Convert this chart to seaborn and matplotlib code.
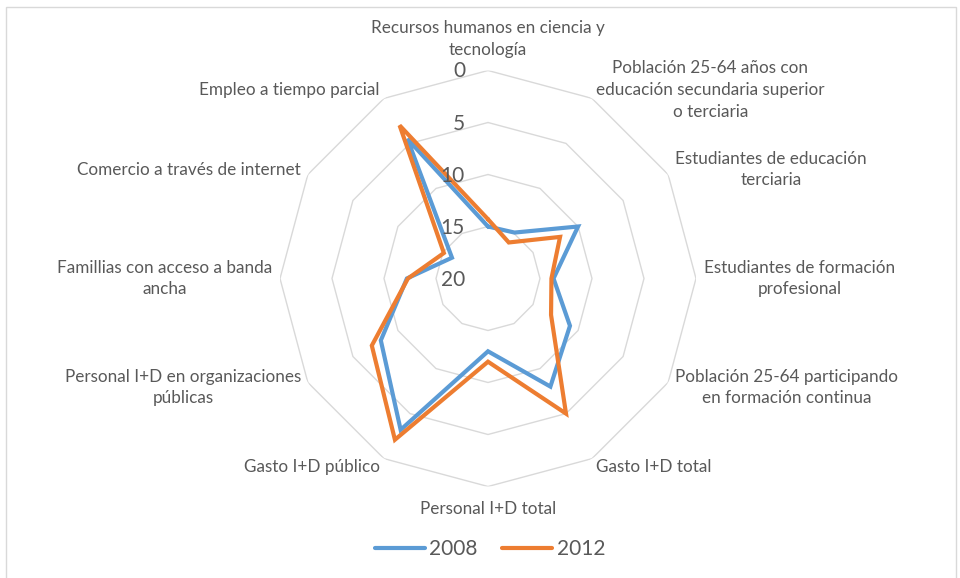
import numpy as np
import pandas as pd
import matplotlib
matplotlib.use("Agg")
import matplotlib.pyplot as plt
from matplotlib.lines import Line2D
from matplotlib.patches import Rectangle
import seaborn as sns

# categorias en sentido horario, empezando arriba
categorias = [
    "Recursos humanos en ciencia y\ntecnología",
    "Población 25-64 años con\neducación secundaria superior\no terciaria",
    "Estudiantes de educación\nterciaria",
    "Estudiantes de formación\nprofesional",
    "Población 25-64 participando\nen formación continua",
    "Gasto I+D total",
    "Personal I+D total",
    "Gasto I+D público",
    "Personal I+D en organizaciones\npúblicas",
    "Famillias con acceso a banda\nancha",
    "Comercio a través de internet",
    "Empleo a tiempo parcial",
]
valores_2008 = [15.0, 14.9, 10.0, 13.7, 10.9, 8.0, 13.0, 3.2, 8.1, 12.2, 16.0, 4.5]
valores_2012 = [14.3, 16.0, 12.0, 13.9, 13.0, 5.0, 12.0, 2.1, 7.1, 12.3, 15.1, 3.0]
anios = ["2008", "2012"]
colores = ["#5B9BD5", "#ED7D31"]
ticks = [0, 5, 10, 15, 20]

sns.set_style("white")
plt.rcParams['font.family'] = ['Lato', 'DejaVu Sans']
gris = "#595959"

n = len(categorias)
angulos = np.linspace(0, 2 * np.pi, n, endpoint=False)
ang_cerrado = np.append(angulos, angulos[0])
rmax = max(ticks)

# escala invertida: 0 en el borde, 20 en el centro
filas = []
for anio, vals in zip(anios, [valores_2008, valores_2012]):
    vals_c = list(vals) + [vals[0]]
    for orden, (a, v) in enumerate(zip(ang_cerrado, vals_c)):
        filas.append({"anio": anio, "orden": orden, "angulo": a, "r": rmax - v})
df = pd.DataFrame(filas)

fig = plt.figure(figsize=(9.6, 5.78), dpi=100)
fig.patch.set_facecolor("white")
fig.add_artist(Rectangle((6 / 960, -0.01), 950 / 960, 1 - 7 / 578 + 0.01,
                         transform=fig.transFigure, fill=False,
                         edgecolor="#d9d9d9", lw=1))

ax = fig.add_axes([280 / 960, (578 - 278.5 - 208) / 578, 416 / 960, 416 / 578],
                  projection="polar")
ax.set_theta_zero_location("N")
ax.set_theta_direction(-1)
ax.set_ylim(0, rmax)
ax.grid(False)
ax.spines["polar"].set_visible(False)
ax.set_xticks([])
ax.set_yticks([])
ax.set_facecolor("none")

# anillos poligonales
for t in ticks[:-1]:
    ax.plot(ang_cerrado, [rmax - t] * len(ang_cerrado), color="#d9d9d9", lw=1, zorder=1)

sns.lineplot(data=df, x="angulo", y="r", hue="anio", palette=colores, sort=False,
             estimator=None, lw=3, ax=ax, legend=False, zorder=3,
             solid_joinstyle="miter")
ax.set_xlabel("")
ax.set_ylabel("")

# etiquetas del eje radial
for t in ticks:
    ax.annotate(str(t), xy=(0, rmax - t), xytext=(-23, -1), textcoords="offset pixels",
                ha="right", va="center", fontsize=15, color=gris)

# etiquetas de categorias
for a, lab in zip(angulos, categorias):
    s, c = np.sin(a), np.cos(a)
    if s > 0.01:
        ha = "left"
    elif s < -0.01:
        ha = "right"
    else:
        ha = "center"
    dy = 10 * c
    if abs(s) < 0.01:
        va = "bottom" if c > 0 else "top"
        dy = 13 if c > 0 else -15
    else:
        va = "center"
    ax.annotate(lab, xy=(a, rmax), xytext=(8 * s, dy), textcoords="offset pixels",
                ha=ha, va=va, multialignment="center", fontsize=12.3, color=gris,
                linespacing=1.45)

handles = [Line2D([0], [0], color=col, lw=3, solid_capstyle="round") for col in colores]
fig.legend(handles, anios, loc="center", bbox_to_anchor=(490 / 960, 29 / 578), ncol=2,
           frameon=False, fontsize=15, handlelength=2.4, handletextpad=0.2,
           columnspacing=1.2, labelcolor=gris)

fig.savefig("out.png", dpi=100, facecolor="white")
